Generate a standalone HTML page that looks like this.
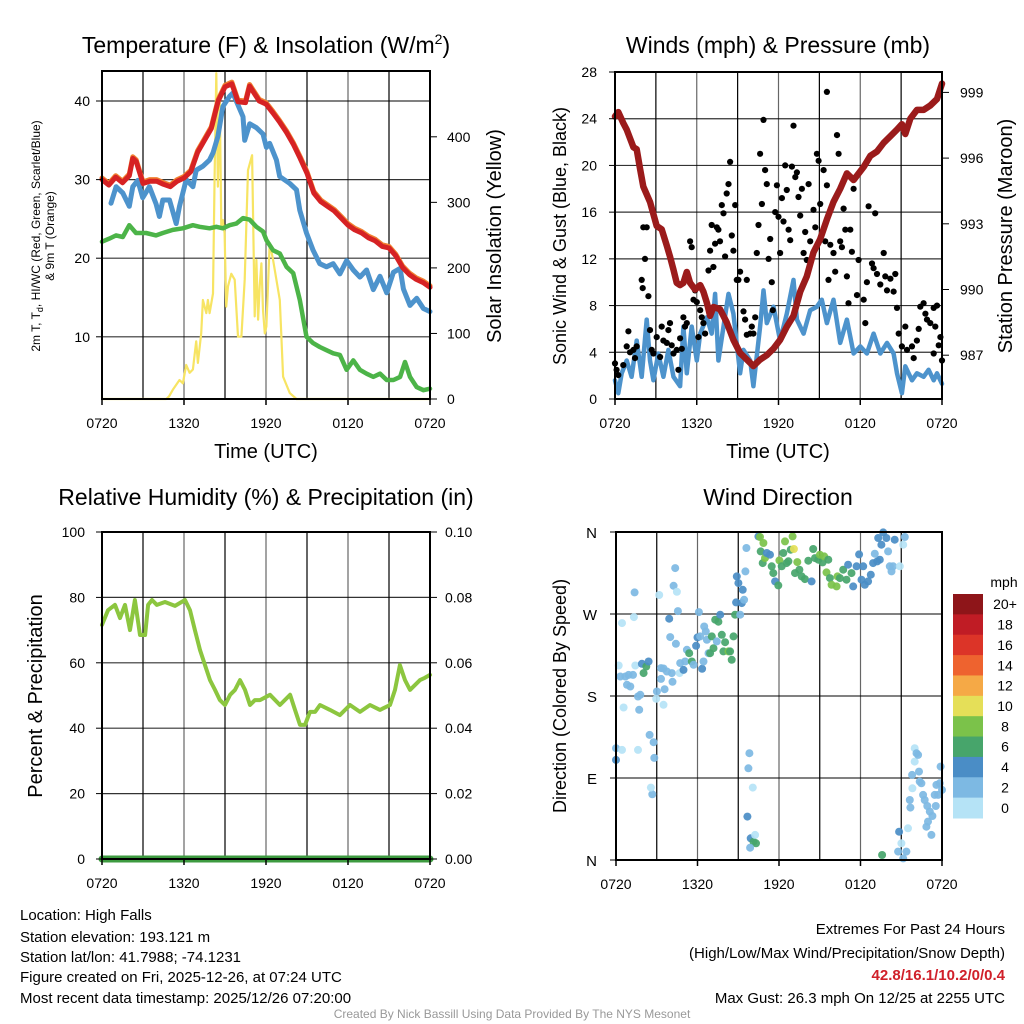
<!DOCTYPE html>
<html><head><meta charset="utf-8"><style>
html,body{margin:0;padding:0;background:#fff}
svg{display:block;font-family:"Liberation Sans",sans-serif}
</style></head><body>
<svg id="c" width="1024" height="1024" viewBox="0 0 1024 1024">
<g id="grid"></g><g id="marks"></g><g id="frames"></g><g id="labels"></g>
<text x="266" y="53" font-size="23" text-anchor="middle">Temperature (F) &amp; Insolation (W/m<tspan dy="-9" font-size="14">2</tspan><tspan dy="9">)</tspan></text>
<text x="778" y="53" font-size="23" text-anchor="middle">Winds (mph) &amp; Pressure (mb)</text>
<text x="266" y="505" font-size="23" text-anchor="middle">Relative Humidity (%) &amp; Precipitation (in)</text>
<text x="778" y="505" font-size="23" text-anchor="middle">Wind Direction</text>
<text x="266" y="458" font-size="20" text-anchor="middle">Time (UTC)</text>
<text x="778" y="458" font-size="20" text-anchor="middle">Time (UTC)</text>
<text transform="translate(40,236) rotate(-90)" font-size="12" text-anchor="middle">2m T, T<tspan dy="3" font-size="9">d</tspan><tspan dy="-3">, HI/WC (Red, Green, Scarlet/Blue)</tspan></text>
<text transform="translate(54,236) rotate(-90)" font-size="12" text-anchor="middle">&amp; 9m T (Orange)</text>
<text transform="translate(501,236) rotate(-90)" font-size="20" text-anchor="middle">Solar Insolation (Yellow)</text>
<text transform="translate(566,236) rotate(-90)" font-size="18" text-anchor="middle">Sonic Wind &amp; Gust (Blue, Black)</text>
<text transform="translate(1012,236) rotate(-90)" font-size="20" text-anchor="middle">Station Pressure (Maroon)</text>
<text transform="translate(42,696) rotate(-90)" font-size="20" text-anchor="middle">Percent &amp; Precipitation</text>
<text transform="translate(566,696) rotate(-90)" font-size="18" text-anchor="middle">Direction (Colored By Speed)</text>
<g font-size="15">
<text x="20" y="920">Location: High Falls</text>
<text x="20" y="942">Station elevation: 193.121 m</text>
<text x="20" y="962">Station lat/lon: 41.7988; -74.1231</text>
<text x="20" y="982">Figure created on Fri, 2025-12-26, at 07:24 UTC</text>
<text x="20" y="1003">Most recent data timestamp: 2025/12/26 07:20:00</text>
</g>
<g font-size="15" text-anchor="end">
<text x="1005" y="934">Extremes For Past 24 Hours</text>
<text x="1005" y="958">(High/Low/Max Wind/Precipitation/Snow Depth)</text>
<text x="1005" y="980" fill="#d0202a" font-weight="bold">42.8/16.1/10.2/0/0.4</text>
<text x="1005" y="1003">Max Gust: 26.3 mph On 12/25 at 2255 UTC</text>
</g>
<text x="512" y="1018" font-size="12" fill="#999" text-anchor="middle">Created By Nick Bassill Using Data Provided By The NYS Mesonet</text>
</svg>
<script>
const NS="http://www.w3.org/2000/svg";
// ---- data ----
const xTickLabels=["0720","1320","1920","0120","0720"];
const tempTimes=[0,0.5,1,1.5,2,2.25,2.5,3,3.5,4,4.5,5,5.5,6,6.5,7,7.5,8,8.5,9,9.5,9.95,10.5,10.8,11.5,12,12.5,13,13.5,14,14.5,15,15.5,16,16.5,17,17.5,18,18.5,19,19.5,20,20.5,21,21.5,22,22.5,23,23.5,24];
const tempValues=[30,29.3,30.3,29.6,30.5,32.7,32.3,29.5,29.8,29.8,29.4,29.1,29.8,30.2,31,33.5,35,36.5,40,41.8,42.2,39.9,39.8,41.9,40,39.6,38.5,37.3,36,34.5,32.7,30.8,28.3,27.2,26.6,26,25.1,24.2,23.6,23.2,22.6,22.2,21.5,21.3,20.3,18.8,17.9,17.3,16.9,16.3];
const hiTimes=[0.66,1.03,1.52,2.0,2.25,2.62,2.98,3.47,3.96,4.2,4.45,4.94,5.43,5.67,6.16,6.65,6.89,7.38,7.87,8.12,8.48,8.85,9.34,9.58,10.32,10.44,10.81,11.3,11.78,12.03,12.27,12.76,13.0,13.74,14.23,14.47,14.96,15.45,15.94,16.43,16.92,17.41,17.9,18.39,18.87,19.36,19.85,20.34,20.83,21.32,21.81,22.05,22.54,23.03,23.52,24];
const hiValues=[27.0,29.1,28.3,26.6,29.1,29.9,27.7,29.1,26.9,25.3,27.4,27.4,24.4,26.6,30.0,29.1,31.2,31.7,32.5,33.4,35.5,39.3,40.6,41.0,38.0,35.0,37.1,36.6,35.8,34.1,34.6,32.5,30.4,29.5,28.7,26.1,23.2,21.0,19.3,18.9,19.3,18.0,19.7,18.5,17.6,18.5,16.0,17.7,15.6,18.2,18.7,16.1,14.0,14.9,13.6,13.2];
const dewTimes=[0,0.54,1.03,1.52,2.0,2.49,3.23,3.96,4.45,5.18,5.92,6.65,7.14,7.87,8.36,8.85,9.34,9.83,10.32,10.81,11.3,11.78,12.03,12.52,13.01,13.5,13.99,14.47,14.96,15.45,15.94,16.43,16.92,17.41,17.9,18.39,18.87,19.36,19.85,20.34,20.83,21.32,21.81,22.17,22.54,23.03,23.52,24];
const dewValues=[22.1,22.5,22.9,22.7,24.2,23.2,23.2,22.9,23.2,23.6,23.8,24.2,24.0,23.8,24.0,23.8,24.2,24.4,25.1,24.9,24.0,23.4,22.3,21.0,20.6,18.9,18.1,14.7,10.0,9.2,8.7,8.3,7.9,7.7,5.8,7.0,5.8,5.3,4.9,5.3,4.5,4.5,4.9,6.8,4.9,3.6,3.2,3.4];
const solTimes=[0,4.7,4.9,5.18,5.67,5.92,6.16,6.41,6.65,6.89,7.02,7.26,7.38,7.63,7.75,7.87,8.12,8.24,8.36,8.48,8.61,8.73,8.85,8.97,9.09,9.22,9.46,9.71,9.95,10.2,10.44,10.68,10.98,11.17,11.3,11.42,11.54,11.66,11.78,11.91,12.03,12.27,12.52,13.01,13.25,13.74,14.23,24];
const solValues=[0,0,4,14,29,24,52,40,45,88,55,100,151,131,151,131,161,339,497,324,466,262,273,253,141,172,191,182,95,95,182,349,372,126,212,121,172,207,136,100,111,238,212,151,34,9,0,0];
const windTimes=[0,0.24,0.49,0.86,1.22,1.59,1.96,2.33,2.57,2.82,3.18,3.55,3.92,4.29,4.78,5.02,5.27,5.63,6.0,6.25,6.74,7.1,7.35,7.59,7.96,8.33,8.69,9.18,9.43,9.92,10.16,10.65,10.9,11.14,11.63,12.12,12.61,13.1,13.35,13.84,14.33,14.82,15.18,15.55,16.04,16.53,17.02,17.51,18.0,18.49,18.98,19.47,19.96,20.45,20.7,21.06,21.31,21.8,22.16,22.65,23.02,23.39,23.63,24];
const windValues=[1.6,0.5,2.2,3.3,1.9,5.0,1.9,6.8,3.3,1.6,3.9,1.9,4.2,1.9,1.1,6.2,2.2,6.2,3.3,5.6,7.0,5.6,9.0,3.3,6.2,9.0,7.3,2.2,4.2,3.3,1.1,6.2,9.3,6.5,7.9,5.0,7.3,10.2,6.8,5.6,7.6,7.9,8.5,6.5,8.5,4.8,6.8,3.9,4.5,3.9,5.6,3.9,4.8,3.9,2.2,0.5,2.8,1.6,2.2,1.9,2.5,1.6,2.2,1.3];
const gustTimes=[0,.12,.24,.61,.86,.98,1.1,1.35,1.47,1.59,1.96,2.03,2.08,2.2,2.33,2.45,2.57,2.69,2.82,3.06,3.31,3.43,3.55,3.8,3.92,4.04,4.16,4.29,4.53,4.65,4.78,4.9,5.02,5.14,5.27,5.51,5.63,5.76,5.88,6.0,6.12,6.25,6.37,6.49,6.61,6.86,6.98,7.1,7.22,7.35,7.47,7.59,7.71,7.84,7.96,8.08,8.2,8.33,8.45,8.57,8.69,8.82,8.94,9.06,9.18,9.43,9.55,9.67,9.67,9.92,10.04,10.16,10.29,10.41,10.53,10.65,10.78,10.9,11.02,11.14,11.27,11.39,11.51,11.58,11.76,11.88,12.0,12.12,12.25,12.37,12.49,12.61,12.74,12.86,12.98,13.1,13.23,13.35,13.47,13.59,13.72,13.84,13.96,14.08,14.21,14.33,14.57,14.7,14.82,14.94,15.06,15.31,15.43,15.55,15.55,15.67,15.8,16.04,16.16,16.29,16.41,16.53,16.65,16.78,16.9,17.02,17.14,17.27,17.39,17.51,17.76,17.88,18.25,18.37,18.49,18.61,18.86,18.98,19.1,19.23,19.47,19.72,19.84,19.96,20.21,20.45,20.57,20.7,20.82,21.06,21.31,21.43,21.8,21.92,22.16,22.29,22.41,22.65,22.78,22.9,23.14,23.39,23.51,23.63,23.76,23.88,24,23.39];
const gustValues=[3.05,2.5,2.05,2.9,4.5,5.8,4.0,4.2,3.5,4.5,10.2,9.5,14.7,12.0,14.7,8.8,5.9,4.2,3.9,5.3,3.6,6.2,5.0,4.8,5.9,6.5,4.6,3.9,4.2,2.5,5.2,4.3,7.0,6.2,6.5,13.5,13.0,8.5,9.3,8.3,5.3,7.6,7.0,6.5,5.6,11.0,12.7,14.9,11.3,13.3,14.7,14.5,13.5,16.6,15.9,12.2,17.6,18.4,20.3,14.0,12.7,16.6,10.2,10.2,10.9,7.5,6.8,10.2,5.5,5.6,6.2,5.6,7.0,12.5,14.9,21.0,16.7,23.9,19.6,18.4,12.0,13.7,10.0,7.6,16.0,18.3,15.6,12.5,17.2,15.2,20.0,17.9,14.5,13.6,19.9,23.4,19.0,19.4,17.3,15.7,18.0,12.5,14.3,11.9,18.4,13.5,16.2,14.7,21.0,20.4,16.7,19.6,13.5,18.3,26.3,10.2,13.2,12.5,10.9,22.6,21.0,13.5,13.0,16.3,14.5,10.5,8.2,14.5,12.6,18.0,8.9,11.9,8.5,6.5,10.0,16.5,11.6,11.2,15.9,10.7,9.8,12.5,10.5,9.3,10.3,9.2,10.7,7.8,5.6,4.5,6.2,4.2,4.5,3.5,5.0,6.0,7.9,8.2,7.3,6.8,6.5,7.8,6.2,8.0,4.6,5.3,3.3,3.9];
const presTimes=[0,.24,.61,.86,1.35,1.59,1.84,2.08,2.57,3.06,3.43,3.8,4.04,4.29,4.53,4.78,5.02,5.27,5.51,5.88,6.25,6.49,6.74,6.98,7.22,7.71,8.2,8.69,9.18,9.67,10.16,10.65,11.14,11.63,12.12,12.61,13.1,13.59,14.08,14.57,15.06,15.55,16.04,16.53,17.02,17.51,17.76,18.25,18.74,19.23,19.72,20.21,20.7,21.06,21.31,21.67,22.16,22.65,23.14,23.63,24];
const presValues=[997.9,998.1,997.6,997.3,996.5,996.4,995.5,994.7,994.0,992.9,992.75,992.0,991.5,990.9,990.3,990.2,990.3,990.8,990.3,990.0,990.2,989.9,989.4,988.8,989.2,989.1,988.5,987.7,987.1,986.8,986.5,986.8,987.0,987.3,987.7,988.3,988.8,989.9,990.6,991.7,992.3,993.2,994.0,994.6,995.3,995.0,995.2,995.6,996.1,996.3,996.7,997.0,997.3,997.55,997.1,997.8,998.2,998.2,998.4,998.7,999.4];
const rhTimes=[0,.44,.95,1.32,1.68,2.05,2.41,2.78,3.15,3.37,3.66,4.02,4.61,5.34,6.07,6.44,6.8,7.17,7.54,7.9,8.27,8.63,9.0,9.37,9.73,10.1,10.46,10.83,11.19,11.56,12.29,13.02,13.76,14.12,14.49,14.85,15.22,15.59,15.95,16.68,17.41,18.15,18.88,19.61,20.34,21.07,21.44,21.8,22.17,22.54,23.27,23.63,24];
const rhValues=[71.6,76.1,77.7,73.7,77.7,70,79.2,68.5,68.5,77.7,79.2,77.7,78.6,77.4,79.2,76.1,70,63.9,59.3,54.7,51.7,48.6,47.1,50.2,51.7,54.7,51.7,47.1,48.6,48.6,50.2,47.1,50.2,45.6,41,41,45,45,47.1,45.6,44,47.1,45,47.1,45.6,47.1,51.7,59.3,54.7,51.7,54.7,55.4,56.3];
const precipValue=0;
const dirTimes=[0,0,.44,.2,.32,.44,.69,.81,.93,1.05,1.25,1.37,1.32,1.42,1.62,1.79,1.71,1.62,.56,1.91,2.03,2.23,2.4,2.47,2.67,2.57,2.77,2.82,3.01,2.96,3.18,3.31,3.31,3.5,3.58,3.5,3.75,3.92,3.99,4.11,4.16,4.24,4.36,4.48,4.41,4.56,4.68,4.73,4.97,5.09,5.22,5.39,5.58,5.71,5.9,6.0,6.1,6.2,6.34,6.44,6.49,6.61,6.69,6.81,6.93,7.05,7.18,7.3,7.42,7.54,7.67,7.79,7.91,8.03,8.28,8.4,8.52,8.65,8.77,8.84,8.89,9.01,9.14,9.26,9.33,9.43,9.53,9.6,9.67,9.75,9.82,10.07,9.92,10.12,10.31,9.87,10.24,10.48,10.6,10.85,10.65,10.8,10.97,11.1,11.34,11.46,11.58,11.71,11.95,12.03,12.2,12.32,12.44,12.56,12.69,12.86,13.0,13.1,13.18,13.35,13.5,13.67,13.91,14.16,14.4,14.52,14.65,14.89,15.01,15.21,15.33,15.5,15.63,15.75,15.87,16.24,16.31,16.48,16.73,16.97,17.09,17.34,17.46,17.71,17.9,18.07,18.2,18.32,18.56,18.76,18.93,19.05,19.23,19.42,19.3,19.54,19.67,19.91,20.03,20.16,20.28,20.4,20.52,20.89,21.14,21.26,19.59,20.77,20.84,21.01,21.14,21.38,21.5,21.63,21.67,21.82,21.8,21.99,21.99,22.12,22.24,22.31,22.36,22.48,22.61,22.73,22.85,22.97,22.92,23.1,23.22,23.29,23.46,23.54,23.59,23.71,23.83,23.9,24.0];
const dirValues=[122.7,109.9,120.8,213.5,201.4,260,201.4,192.3,203.2,190.4,203.2,293.7,266.6,213.5,179.4,181.3,164.8,120.8,167.4,215.3,205.1,212.4,217.9,137.3,72.1,79.5,129.3,112.1,184.9,176.9,290.8,198.8,210.6,210.2,187.5,170.3,206.9,264.8,244.6,205.1,195.6,301,320.4,294.4,237.3,273.2,205.1,216.1,208.7,217.9,230.7,227,217.9,214.2,235.1,244.3,272.1,245.4,209.8,217.9,256.3,250.8,241.7,227,227,245.4,232.5,263.7,239.9,261.5,269.2,247.2,228.9,239.1,228.9,228.9,219.7,245.4,269.2,282.7,311.3,303.9,269.2,282,296.6,285.6,316.8,342.4,47.6,100.7,117.2,79.5,23.8,20.1,18.3,13.5,27.5,355.2,354.5,347.9,338.7,325.9,331.4,336.9,335.1,322.3,314.9,305.8,301.4,328.8,322.3,336.9,349.7,325.9,327.8,340.6,355.2,341.3,314.9,327,318.6,311.3,308.3,328.5,305.8,341.3,331.4,329.6,335.1,326.6,333.2,315.7,329.6,309.4,302.1,300.3,311.3,309.4,318.6,307.6,324.1,314.9,300.3,322.3,335.4,307.6,322.3,302.1,305.8,313.1,325.9,336.2,327.7,329.6,353.4,346.1,359.6,353.4,338.7,322.3,316.8,322.3,351.6,322.3,346.1,354.5,5.5,9.2,31.1,18.3,1.8,9.2,34.8,65.9,57.5,78.7,93.4,122.7,108,117.2,115.4,97,86.1,84.2,71.4,65.9,36.6,42.1,59.3,53.1,27.5,48.3,71.4,59.3,82.4,71.4,84.2,102.5,76.9];
const dirSpeeds=[3,5,1,1,3,1,3,3,3,3,3,3,1,1,3,3,3,1,1,5,7,7,5,3,3,1,3,3,3,1,1,3,3,3,3,1,3,5,3,3,3,3,3,1,3,3,1,3,5,3,3,7,7,3,5,5,3,3,5,3,3,3,3,3,7,7,7,7,3,7,5,7,7,7,9,7,7,7,7,5,5,5,3,5,5,3,3,3,5,3,3,1,5,7,7,3,1,5,9,9,7,7,9,5,5,7,7,5,7,9,7,7,9,7,7,7,9,11,7,9,7,7,7,7,5,7,7,7,9,7,9,9,7,7,9,9,9,7,7,7,5,7,5,5,5,5,5,5,5,5,5,3,5,5,5,5,5,5,3,3,3,3,5,1,1,3,7,3,5,1,3,3,1,3,3,1,3,1,1,3,3,3,3,3,3,3,3,3,3,3,3,3,3,3,3,3,3,3,3];
const speedBins=["0","2","4","6","8","10","12","14","16","18","20+"];
const binColors=["#b5e3f6","#7db9e3","#4a8dc6","#47a56b","#7bc24a","#e5df58","#f5a946","#ee632f","#dc3428","#c01c25","#8e1519"];
// ---- geometry / scales ----
const P1={x0:102,x1:430,y0:71,y1:399}, P2={x0:615,x1:942,y0:72,y1:399}, P3={x0:102,x1:430,y0:532,y1:859}, P4={x0:616,x1:942,y0:532,y1:860};
const xs=(P,t)=>P.x0+t*(P.x1-P.x0)/24;
const yTemp=v=>101+(40-v)*7.86;
const ySol=v=>399-v*0.6555;
const yWind=v=>399-v*327/28;
const yPres=p=>399-(p-985)*21.9;
const yRH=v=>859-v*3.27;
const yPrecip=v=>859-v*3270;
const yDir=d=>860-d*328/360;
const grid=document.getElementById('grid'),marks=document.getElementById('marks'),frames=document.getElementById('frames'),labels=document.getElementById('labels');
function el(tag,attrs,parent){const e=document.createElementNS(NS,tag);for(const k in attrs)e.setAttribute(k,attrs[k]);parent.appendChild(e);return e;}
function txt(x,y,s,anchor,size,parent){const e=el('text',{x:x,y:y,'text-anchor':anchor,'font-size':size},parent);e.textContent=s;return e;}
function line(P,times,vals,ys,color,w,name){
  let d='';times.forEach((t,i)=>{d+=(i?'L':'M')+xs(P,t).toFixed(1)+','+ys(vals[i]).toFixed(1);});
  const p=el('path',{d:d,fill:'none',stroke:color,'stroke-width':w,'stroke-linejoin':'round','stroke-linecap':'round'},marks);
  
  
}
function panelGrid(P,hy){
  for(let k=1;k<8;k++){const x=P.x0+k*(P.x1-P.x0)/8;el('line',{x1:x,x2:x,y1:P.y0,y2:P.y1,stroke:'#000','stroke-width':1.2,'stroke-opacity':k%2?1:0.6},grid);}
  hy.forEach(y=>el('line',{x1:P.x0,x2:P.x1,y1:y,y2:y,stroke:'#000','stroke-width':1.2,'stroke-opacity':0.8},grid));
  const r=el('rect',{x:P.x0,y:P.y0,width:P.x1-P.x0,height:P.y1-P.y0,fill:'none',stroke:'#000','stroke-width':2},frames);
  
  
  xTickLabels.forEach((s,i)=>{const x=P.x0+i*(P.x1-P.x0)/4;const t=txt(x,P.y1+29,s,'middle',14,labels);
    
    
    el('line',{x1:x,x2:x,y1:P.y1,y2:P.y1+6,stroke:'#000','stroke-width':1.5},frames);});
}
// panel 1
const t1=[10,20,30,40];
panelGrid(P1,t1.map(yTemp));
t1.forEach(v=>{txt(90,yTemp(v)+5,String(v),'end',14,labels);el('line',{x1:P1.x0-6,x2:P1.x0,y1:yTemp(v),y2:yTemp(v),stroke:'#000'},frames);});
[0,100,200,300,400].forEach(v=>{txt(447,ySol(v)+5,String(v),'start',14,labels);el('line',{x1:P1.x1,x2:P1.x1+7,y1:ySol(v),y2:ySol(v),stroke:'#000'},frames);});
line(P1,solTimes,solValues,ySol,'#f7e463',2.2,'insolation-line');
line(P1,dewTimes,dewValues,yTemp,'#4cb448',4.5,'dewpoint-line');
line(P1,hiTimes,hiValues,yTemp,'#4d93cc',5,'heat-index-line');
line(P1,tempTimes,tempValues.map(v=>v+0.2),yTemp,'#f08030',5,'temp-9m-line');
line(P1,tempTimes,tempValues,yTemp,'#d62224',5,'temp-2m-line');
// panel 2
const t2=[0,4,8,12,16,20,24,28];
panelGrid(P2,t2.map(yWind));
t2.forEach(v=>{txt(597,yWind(v)+5,String(v),'end',14,labels);el('line',{x1:P2.x0-6,x2:P2.x0,y1:yWind(v),y2:yWind(v),stroke:'#000'},frames);});
[987,990,993,996,999].forEach(v=>{txt(960,yPres(v)+5,String(v),'start',14,labels);el('line',{x1:P2.x1,x2:P2.x1+7,y1:yPres(v),y2:yPres(v),stroke:'#000'},frames);});
line(P2,windTimes,windValues,yWind,'#4d93cc',4.5,'sonic-wind-line');
gustTimes.forEach((t,i)=>{const c=el('circle',{cx:xs(P2,t).toFixed(1),cy:yWind(gustValues[i]).toFixed(1),r:3.1,fill:'#000'},marks);
  
  });
line(P2,presTimes,presValues,yPres,'#9b1b1b',6.5,'pressure-line');
// panel 3
const t3=[0,20,40,60,80,100];
panelGrid(P3,t3.slice(1,5).map(yRH));
t3.forEach(v=>{txt(85,yRH(v)+5,String(v),'end',14,labels);el('line',{x1:P3.x0-6,x2:P3.x0,y1:yRH(v),y2:yRH(v),stroke:'#000'},frames);});
["0.00","0.02","0.04","0.06","0.08","0.10"].forEach(s=>{const v=parseFloat(s);txt(445,yPrecip(v)+5,s,'start',14,labels);el('line',{x1:P3.x1,x2:P3.x1+7,y1:yPrecip(v),y2:yPrecip(v),stroke:'#000'},frames);});
line(P3,rhTimes,rhValues,yRH,'#8cc63f',4,'humidity-line');
line(P3,[0,24],[precipValue,precipValue],yPrecip,'#3e9b40',7,'precipitation-line');
// panel 4
const dirTicks=[0,90,180,270,360], dirNames=["N","E","S","W","N"];
panelGrid(P4,dirTicks.slice(1,4).map(yDir));
dirTicks.forEach((d,i)=>{txt(597,yDir(d)+6,dirNames[i],'end',15,labels);el('line',{x1:P4.x0-6,x2:P4.x0,y1:yDir(d),y2:yDir(d),stroke:'#000'},frames);});
dirTimes.forEach((t,i)=>{const b=Math.min(10,Math.floor((dirSpeeds[i]||1)/2));
  const c=el('circle',{cx:xs(P4,t).toFixed(1),cy:yDir(dirValues[i]).toFixed(1),r:4,fill:binColors[b],'fill-opacity':0.92},marks);
  
  });
// colorbar
const cb=el('g',{},labels);


txt(1004,587,'mph','middle',14,cb);
const bh=224/11;
speedBins.forEach((s,i)=>{const k=10-i;const y=594+i*bh;
  el('rect',{x:953,y:y,width:30,height:bh+0.5,fill:binColors[k]},cb);
  txt(1005,y+bh/2+5,speedBins[k],'middle',14,cb);});
</script>
</body></html>
